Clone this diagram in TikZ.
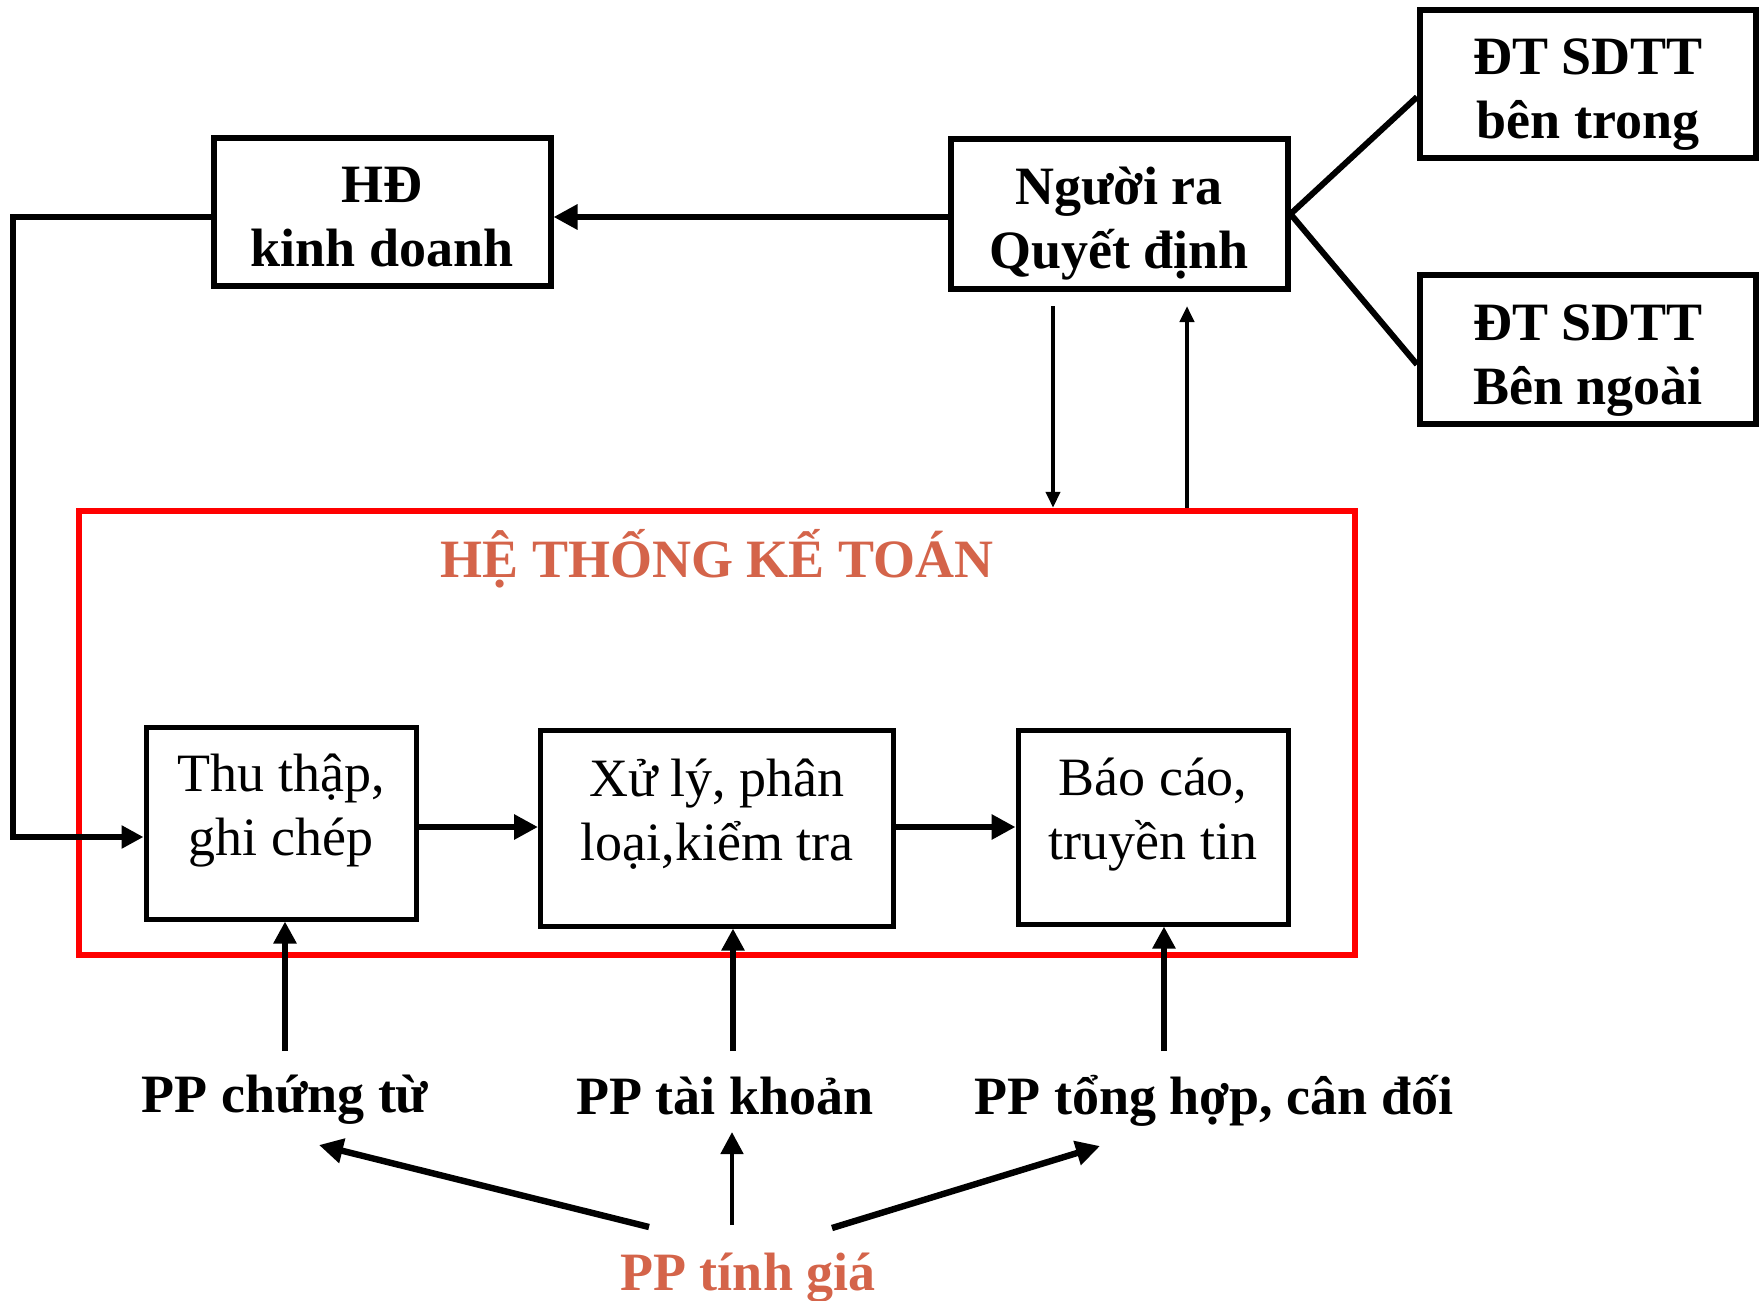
\documentclass[tikz,border=0pt]{standalone}
\usepackage{fontspec}
\setmainfont{Liberation Serif}
\usetikzlibrary{arrows.meta}
\definecolor{coral}{RGB}{212,100,74}
\definecolor{pured}{RGB}{255,0,0}
\newcommand\tst[1]{\rule{0pt}{#1}}
\newcommand\bst[1]{\rule[-#1]{0pt}{#1}}
\begin{document}
\begin{tikzpicture}[x=0.5pt,y=-0.5pt,
  bigfont/.style={font=\fontsize{27}{32}\selectfont\bfseries},
  box/.style={draw, line width=3pt, align=center, inner sep=0pt, bigfont},
  ibox/.style={draw, line width=2.5pt, align=center, inner sep=0pt, font=\fontsize{27}{32}\selectfont},
  redbox/.style={draw=pured, line width=3.2pt, inner sep=0pt},
  lbl/.style={bigfont, anchor=base, inner sep=0pt},
  thickarr/.style={line width=3.2pt, -{Triangle[length=12pt,width=12pt]}},
  medarr/.style={line width=2.8pt, -{Triangle[length=11pt,width=11pt]}},
  thinarr/.style={line width=2pt, -{Triangle[length=8pt,width=7pt]}},
  conn/.style={line width=3pt}
]
\useasboundingbox (0,0) rectangle (1762,1301);

% top boxes
\node[box, minimum width=168.5pt, minimum height=74pt] (hd) at (382,212) {\tst{30.5pt}HĐ\\kinh doanh\bst{8pt}};
\node[box, minimum width=168.5pt, minimum height=75pt] (nr) at (1119,214) {\tst{30.5pt}Người ra\\Quyết định\bst{8pt}};
\node[box, minimum width=168pt, minimum height=74pt] (dt1) at (1588,84) {\tst{30.5pt}ĐT SDTT\\bên trong\bst{8pt}};
\node[box, minimum width=168pt, minimum height=74.5pt] (dt2) at (1588,349.5) {\tst{30.5pt}ĐT SDTT\\Bên ngoài\bst{8pt}};

% accounting system frame
\node[redbox, minimum width=638pt, minimum height=222pt] (kt) at (717,733) {};
\node[lbl, text=coral] (title) at (717,577) {HỆ THỐNG KẾ TOÁN};

% inner boxes
\node[ibox, minimum width=135pt, minimum height=96pt] (thu) at (281,823) {\tst{27pt}Thu thập,\\ghi chép\bst{27pt}};
\node[ibox, minimum width=176.5pt, minimum height=98pt] (xl) at (717,828) {\tst{27pt}Xử lý, phân\\loại,kiểm tra\bst{27pt}};
\node[ibox, minimum width=135pt, minimum height=97pt] (bc) at (1153,827) {\tst{27pt}Báo cáo,\\truyền tin\bst{27pt}};

% method labels
\node[lbl] (pp1) at (285,1112) {PP chứng từ};
\node[lbl] (pp2) at (725,1114) {PP tài khoản};
\node[lbl] (pp3) at (1214,1114) {PP tổng hợp, cân đối};
\node[lbl, text=coral] (pp4) at (748,1290) {PP tính giá};

% coordinates
\coordinate (l1) at (13,217);
\coordinate (l2) at (13,837);
\coordinate (d1) at (1053,306);
\coordinate (u1) at (1187,306);
\coordinate (s1) at (285,1051);
\coordinate (s2) at (733,1051);
\coordinate (s3) at (1164,1051);
\coordinate (t1) at (649,1227);
\coordinate (t2) at (732,1225);
\coordinate (t3) at (832,1228);
\coordinate (e1) at (319,1145);
\coordinate (e2) at (732,1132);
\coordinate (e3) at (1100,1146);

% connectors
\draw[thickarr] (nr.west |- l1) -- (hd.east |- l1);
\draw[conn, -{Triangle[length=11pt,width=11pt]}] (hd.west |- l1) -- (l1) -- (l2) -- (l2 -| thu.west);
\draw[conn] (nr.east) -- ([yshift=-6.5pt]dt1.west);
\draw[conn] (nr.east) -- ([yshift=-7.5pt]dt2.west);
\draw[thinarr] (d1) -- (d1 |- kt.north);
\draw[thinarr] (u1 |- kt.north) -- (u1);

\draw[thickarr] (thu.east |- 0,827) -- (xl.west |- 0,827);
\draw[thickarr] (xl.east |- 0,827) -- (bc.west |- 0,827);

\draw[medarr] (s1) -- (s1 |- thu.south);
\draw[medarr] (s2) -- (s2 |- xl.south);
\draw[medarr] (s3) -- (s3 |- bc.south);

\draw[thickarr] (t1) -- (e1);
\draw[medarr, line width=2.4pt] (t2) -- (e2);
\draw[thickarr] (t3) -- (e3);
\end{tikzpicture}
\end{document}
